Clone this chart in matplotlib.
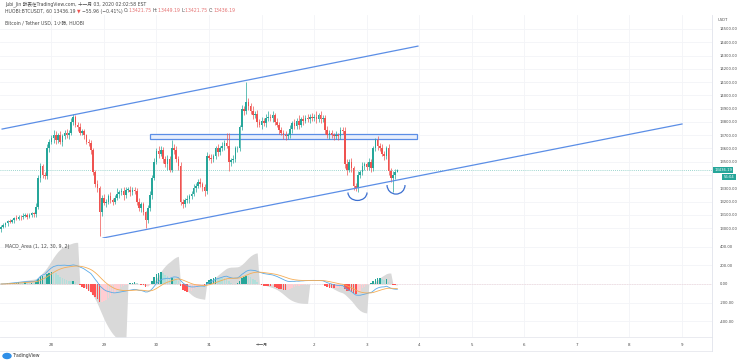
import numpy as np
import pandas as pd
import matplotlib
matplotlib.use("Agg")
import matplotlib.pyplot as plt
from matplotlib.patches import Arc, Rectangle, Ellipse

plt.rcParams["font.family"] = ["DejaVu Sans", "Noto Sans CJK TC"]

# hourly closes, HUOBI BTC/USDT, from 27 Oct 01:00 (candle index 0)
CLOSE = [
    13010, 13020, 13035, 13050, 13045, 13060, 13075, 13070, 13085, 13080,
    13090, 13100, 13085, 13095, 13110, 13105, 13160, 13380, 13470, 13400,
    13390, 13600, 13650, 13680, 13700, 13660, 13700, 13650, 13690, 13720,
    13700, 13720, 13800, 13840, 13780, 13760, 13720, 13730, 13700, 13650,
    13640, 13590, 13420, 13330, 13300, 13120, 13230, 13190, 13200, 13240,
    13210, 13200, 13230, 13260, 13270, 13280, 13250, 13290, 13290, 13270,
    13290, 13280, 13200, 13150, 13180, 13120, 13060, 13150, 13250, 13380,
    13500, 13580, 13560, 13590, 13520, 13480, 13520, 13440, 13600, 13590,
    13520, 13470, 13200, 13180, 13210, 13220, 13240, 13260, 13300, 13320,
    13350, 13330, 13310, 13280, 13540, 13530, 13520, 13540, 13600, 13570,
    13600, 13620, 13640, 13620, 13500, 13510, 13520, 13600, 13600, 13760,
    13900, 13880, 13950, 13920, 13880, 13850, 13860, 13800, 13780, 13810,
    13790, 13830, 13840, 13830, 13850, 13800, 13780, 13740, 13720, 13700,
    13690, 13700, 13750, 13790, 13770, 13810, 13780, 13820, 13810, 13830,
    13820, 13840, 13830, 13840, 13820, 13850, 13820, 13830, 13740, 13700,
    13720, 13700, 13690, 13700, 13690, 13740, 13730, 13480, 13440, 13500,
    13450, 13320, 13300, 13400, 13420, 13470, 13480, 13460, 13500, 13450,
    13600, 13660, 13620, 13600, 13560, 13540, 13600, 13430, 13380, 13400,
    13422, 13436.19,
]
FIRST_OPEN = 12990
# wick lengths beyond the body, in tens of USD
UP_WICK = [
    1, 2, 1, 1, 2, 1, 1, 2, 1, 1, 2, 1, 1, 2, 1, 1, 3, 2, 2, 1,
    2, 3, 2, 2, 4, 3, 2, 3, 2, 2, 3, 2, 3, 2, 1, 2, 3, 2, 2, 1,
    2, 2, 1, 2, 3, 2, 2, 3, 2, 2, 3, 2, 2, 4, 2, 2, 3, 2, 2, 3,
    2, 2, 2, 3, 2, 2, 1, 2, 3, 2, 3, 2, 4, 3, 2, 2, 3, 2, 6, 3,
    3, 2, 3, 2, 2, 3, 2, 2, 3, 2, 2, 3, 2, 2, 3, 2, 3, 2, 2, 3,
    2, 3, 2, 8, 10, 2, 3, 2, 2, 2, 3, 2, 15, 3, 2, 4, 2, 3, 2, 3,
    2, 3, 4, 2, 3, 2, 3, 2, 2, 2, 3, 2, 3, 2, 3, 2, 4, 2, 3, 2,
    3, 2, 3, 2, 4, 2, 3, 2, 2, 3, 2, 2, 2, 3, 2, 2, 2, 3, 4, 2,
    3, 2, 2, 3, 2, 3, 2, 2, 3, 2, 2, 2, 3, 2, 3, 2, 2, 3, 2, 3,
    2, 1,
]
LO_WICK = [
    2, 1, 1, 2, 1, 1, 2, 1, 1, 2, 1, 1, 2, 1, 1, 2, 2, 2, 3, 2,
    2, 2, 3, 2, 4, 3, 2, 2, 3, 2, 2, 3, 2, 2, 2, 3, 2, 2, 3, 2,
    2, 3, 2, 2, 3, 18, 3, 2, 3, 2, 2, 3, 2, 2, 3, 2, 4, 2, 2, 3,
    2, 2, 3, 2, 3, 2, 6, 2, 2, 3, 2, 2, 3, 2, 3, 2, 4, 2, 2, 3,
    2, 3, 3, 3, 2, 2, 3, 2, 2, 3, 2, 2, 3, 4, 2, 2, 3, 2, 2, 3,
    2, 2, 3, 2, 7, 3, 2, 2, 3, 2, 2, 3, 2, 3, 2, 3, 2, 4, 2, 3,
    2, 3, 2, 2, 3, 2, 2, 3, 2, 3, 3, 2, 2, 3, 2, 2, 3, 2, 3, 2,
    2, 3, 2, 2, 3, 2, 3, 2, 3, 2, 3, 2, 3, 2, 3, 2, 2, 3, 4, 2,
    3, 3, 2, 3, 2, 2, 3, 2, 2, 3, 2, 2, 3, 2, 2, 3, 2, 3, 3, 11,
    3, 0,
]
PRICE_TICKS = list(range(13000, 14501, 100))
MACD_TICKS = [400, 200, 0, -200, -400]
DAY_LABELS = ["28", "29", "30", "31", "十一月", "2", "3", "4", "5", "6", "7", "8", "9"]
DAY0 = 23          # candle index of 28 Oct 00:00
FAST, SLOW, SIG = 12, 30, 9
HIST_MULT = 2.0    # histogram drawn at twice macd-signal
AREA_MULT = 0.58
# hand-drawn objects: (candle index, price)
UPPER_CH = [(0.5, 13746), (190.4, 14371)]
LOWER_CH = [(46.6, 12925), (311.0, 13784)]
BOX = (68.0, 190.0, 13671, 13709)
ARCS = [(162.8, 13268, 8.7, 120), (180.4, 13324, 8.2, 136)]
LAST = 13436.19

W, H = 740, 363
GREEN, RED = "#26a69a", "#ef5350"
BLUE = "#5b8ee6"
TXT = "#4a4a4a"

fig = plt.figure(figsize=(W / 100, H / 100), dpi=100)


def pane(x0, y0, x1, y1):
    return fig.add_axes([x0 / W, 1 - y1 / H, (x1 - x0) / W, (y1 - y0) / H])


ax = pane(0, 15, 712, 238)
mx = pane(0, 238, 712, 337)
XL = (-0.46, 324.7)

close = np.array(CLOSE, dtype=float)
opn = np.r_[FIRST_OPEN, close[:-1]]
high = np.maximum(opn, close) + np.array(UP_WICK) * 10
low = np.minimum(opn, close) - np.array(LO_WICK) * 10
idx = np.arange(len(close))
cols = np.where(close >= opn, GREEN, RED)

for a in (ax, mx):
    a.set_xlim(*XL)
    for s in a.spines.values():
        s.set_visible(False)
    a.spines["right"].set_visible(True)
    a.spines["right"].set_color("#e0e3eb")
    a.spines["right"].set_linewidth(0.6)
    a.spines["bottom"].set_visible(True)
    a.spines["bottom"].set_color("#e6e8ee")
    a.spines["bottom"].set_linewidth(0.6)
    for d in range(len(DAY_LABELS)):
        a.axvline(DAY0 + 24 * d, color="#f3f4f7", lw=0.6, zorder=0)
    a.yaxis.tick_right()
    a.tick_params(length=0, labelsize=2.7, labelcolor=TXT, pad=5.5)

# price pane
ax.set_ylim(12925, 14605.5)
ax.set_yticks(PRICE_TICKS)
# 13400 sits under the countdown box, as on the screen
ax.set_yticklabels(["" if v == 13400 else f"{v:.2f}" for v in PRICE_TICKS])
for v in PRICE_TICKS:
    ax.axhline(v, color="#f3f4f7", lw=0.6, zorder=0)
ax.set_xticks([])

ax.vlines(idx, low, high, colors=cols, lw=0.5, zorder=3)
ax.bar(idx, np.maximum(np.abs(close - opn), 4), bottom=np.minimum(opn, close),
       width=0.72, color=cols, lw=0, zorder=4)

ax.axhline(LAST, color="#7cc9bf", lw=0.6, ls=(0, (1, 1.5)), zorder=2)
ax.plot(*zip(*UPPER_CH), color=BLUE, lw=0.9, zorder=5)
ax.plot(*zip(*LOWER_CH), color=BLUE, lw=0.9, zorder=5)
ax.add_patch(Rectangle((BOX[0], BOX[2]), BOX[1] - BOX[0], BOX[3] - BOX[2],
                       facecolor="#e8effc", edgecolor=BLUE, lw=0.9, zorder=2))
for cx, cy, w, h in ARCS:
    ax.add_patch(Arc((cx, cy), w, h, theta1=180, theta2=360,
                     color="#3c6fd0", lw=0.9, zorder=5))

ax.annotate(f"{LAST:.2f}", xy=(1.0, LAST), xycoords=("axes fraction", "data"),
            xytext=(1.5, 0), textcoords="offset points", ha="left", va="center",
            fontsize=2.7, color="white", annotation_clip=False, zorder=10,
            bbox=dict(boxstyle="square,pad=0.35", fc=GREEN, ec="none"))
ax.annotate("56:04", xy=(1.0, LAST), xycoords=("axes fraction", "data"),
            xytext=(8.5, -5.0), textcoords="offset points", ha="left", va="center",
            fontsize=2.7, color="white", annotation_clip=False, zorder=10,
            bbox=dict(boxstyle="square,pad=0.35", fc=GREEN, ec="none"))

# MACD pane
s = pd.Series(close)
macd = s.ewm(span=FAST, adjust=False).mean() - s.ewm(span=SLOW, adjust=False).mean()
signal = macd.ewm(span=SIG, adjust=False).mean()
hist = (macd - signal).to_numpy()
area = np.zeros_like(hist)
acc, prev = 0.0, None
for k, h in enumerate(hist):
    sign = h >= 0
    if sign != prev:
        acc = 0.0
    acc += h
    area[k] = acc
    prev = sign

prev_h = np.r_[0, hist[:-1]]
hcols = np.where(hist >= 0,
                 np.where(hist >= prev_h, GREEN, "#b2dfdb"),
                 np.where(hist < prev_h, "#ff5252", "#ffcdd2"))

mx.set_ylim(-567, 492)
mx.set_yticks(MACD_TICKS)
mx.set_yticklabels([f"{v:.2f}" for v in MACD_TICKS])
for v in MACD_TICKS:
    mx.axhline(v, color="#f3f4f7", lw=0.6, zorder=0)
mx.fill_between(idx, 0, area * AREA_MULT, color="#d9d9d9", lw=0, zorder=1)
mx.bar(idx, hist * HIST_MULT, width=0.72, color=hcols, lw=0, zorder=2)
mx.plot(idx, macd, color="#5aaae8", lw=0.6, zorder=3)
mx.plot(idx, signal, color="#f5ad55", lw=0.6, zorder=3)
mx.axhline(0, color="#e8b0b8", lw=0.4, ls=(0, (1, 2)), zorder=1)

mx.set_xticks([DAY0 + 24 * d for d in range(len(DAY_LABELS))])
mx.set_xticklabels(DAY_LABELS)
mx.tick_params(axis="x", length=0, labelsize=2.9, labelcolor=TXT, pad=4.2)

# header and footer text, pixel positions
ov = fig.add_axes([0, 0, 1, 1])
ov.axis("off")
ov.set_xlim(0, W)
ov.set_ylim(H, 0)

kw = dict(fontsize=3.3, color=TXT, va="center", ha="left")
ov.text(5, 4.5, "Jubi_Jin 發表在TradingView.com, 十一月 03, 2020 02:02:58 EST", **kw)
parts = [("HUOBI:BTCUSDT, 60 13436.19 ", TXT), ("▼ ", RED), ("−55.96 (−0.41%) ", TXT),
         ("O:", TXT), ("13421.75 ", "#e57373"), ("H:", TXT), ("13449.19 ", "#e57373"),
         ("L:", TXT), ("13421.75 ", "#e57373"), ("C:", TXT), ("13436.19", "#e57373")]
t = ov.text(5, 11, parts[0][0], **kw)
for txt, c in parts[1:]:
    t = ov.annotate(txt, xy=(1, 0.5), xycoords=t, va="center", ha="left",
                    fontsize=3.3, color=c)
ov.text(5, 23, "Bitcoin / Tether USD, 1小時, HUOBI", **kw)
ov.text(5, 246, "MACD_Area (1, 12, 30, 9, 2)", **kw)
ov.text(718, 20, "USDT", fontsize=2.7, color=TXT, va="center", ha="left")
ov.plot([0, 712], [351, 351], color="#e6e8ee", lw=0.6)
ov.plot([712, 712], [337, 351], color="#e0e3eb", lw=0.6)
ov.add_patch(Ellipse((7, 356), 8, 5, color="#2f8fe8"))
ov.text(12.5, 356, "TradingView", fontsize=3.3, color="#333333", va="center", ha="left")

fig.savefig("out.png", dpi=100)
